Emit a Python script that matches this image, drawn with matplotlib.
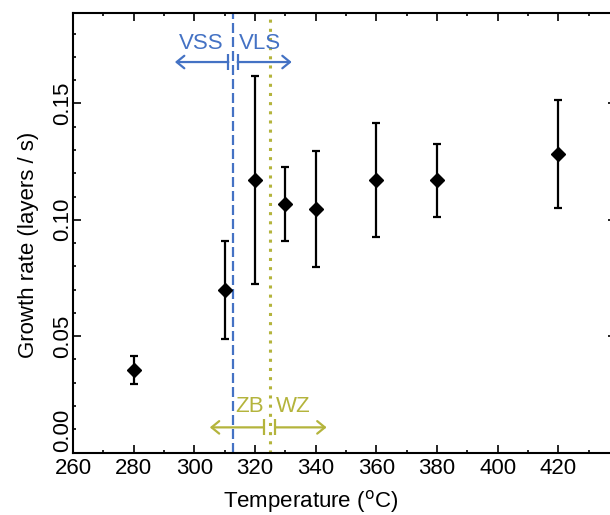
import matplotlib
matplotlib.use("Agg")
import matplotlib.pyplot as plt
from matplotlib.ticker import MultipleLocator

plt.rcParams['font.family'] = ['Liberation Sans', 'DejaVu Sans']

temps = [280, 310, 320, 330, 340, 360, 380, 420]
rates = [0.0355, 0.0699, 0.1172, 0.1068, 0.1047, 0.1172, 0.1169, 0.1283]
errors = [0.006, 0.021, 0.0446, 0.016, 0.025, 0.0245, 0.0157, 0.0233]

vss_vls_T = 312.8
zb_wz_T = 324.9

blue = '#4472C4'
olive = '#B4B43C'

fig = plt.figure(figsize=(6.1, 5.15), dpi=100)
ax = fig.add_axes([73/610, 1-452.5/515, 543/610, 439.8/515])

ax.errorbar(temps, rates, yerr=errors, fmt='D', color='black', ms=7,
            elinewidth=1.6, capsize=3.2, capthick=1.6, zorder=3)

ax.axvline(vss_vls_T, color=blue, lw=1.6, ls=(0, (4.5, 1.8)), zorder=2)
ax.axvline(zb_wz_T, color=olive, lw=2.2, ls=(0, (1, 2)), zorder=2)

astyle = '->,head_length=0.55,head_width=0.45'

# VSS / VLS arrows
yb = 0.1678
ax.annotate('', xy=(293.6, yb), xytext=(311.2, yb),
            arrowprops=dict(arrowstyle=astyle, color=blue, lw=1.6, shrinkA=0, shrinkB=0))
ax.annotate('', xy=(332.1, yb), xytext=(314.3, yb),
            arrowprops=dict(arrowstyle=astyle, color=blue, lw=1.6, shrinkA=0, shrinkB=0))
ax.plot([311.2, 314.3], [yb, yb], ls='none', marker='|', ms=11, mew=1.6, color=blue)
ax.text(302.4, 0.1759, 'VSS', color=blue, fontsize=16, ha='center', va='center')
ax.text(321.6, 0.1759, 'VLS', color=blue, fontsize=16, ha='center', va='center')

# ZB / WZ arrows
yo = 0.0108
ax.annotate('', xy=(305.1, yo), xytext=(322.9, yo),
            arrowprops=dict(arrowstyle=astyle, color=olive, lw=1.6, shrinkA=0, shrinkB=0))
ax.annotate('', xy=(343.6, yo), xytext=(326.7, yo),
            arrowprops=dict(arrowstyle=astyle, color=olive, lw=1.6, shrinkA=0, shrinkB=0))
ax.plot([322.9, 326.7], [yo, yo], ls='none', marker='|', ms=11, mew=1.6, color=olive)
ax.text(318.3, 0.0197, 'ZB', color=olive, fontsize=16, ha='center', va='center')
ax.text(332.6, 0.0197, 'WZ', color=olive, fontsize=16, ha='center', va='center')

ax.set_xlim(260, 439)
ax.set_ylim(0, 0.189)
ax.xaxis.set_major_locator(MultipleLocator(20))
ax.xaxis.set_minor_locator(MultipleLocator(10))
ax.yaxis.set_major_locator(MultipleLocator(0.05))
ax.yaxis.set_minor_locator(MultipleLocator(0.01))
ax.yaxis.set_major_formatter(matplotlib.ticker.FormatStrFormatter('%.2f'))

for s in ax.spines.values():
    s.set_linewidth(1.5)
ax.tick_params(which='both', direction='in', top=True, right=True, width=1.2, labelsize=16)
ax.tick_params(which='major', length=6)
ax.tick_params(which='minor', length=2.5)
ax.tick_params(axis='x', pad=4)
ax.tick_params(axis='y', labelrotation=90, pad=0)

fig.canvas.draw()
for lab in ax.get_yticklabels():
    lab.set_va('center')
    try:
        if abs(float(lab.get_text())) < 1e-9:
            lab.set_va('bottom')
    except ValueError:
        pass

ax.set_xlabel('Temperature ($^{\\rm o}$C)', fontsize=16)
ax.set_ylabel('Growth rate (layers / s)', fontsize=16)
ax.xaxis.set_label_coords((310.7-73)/543, (452.5-501.7)/439.8)
ax.xaxis.label.set_va('center')
ax.yaxis.set_label_coords((29-73)/543, (452.5-245)/439.8)
ax.yaxis.label.set_va('center')

fig.savefig('out.png', dpi=100)
